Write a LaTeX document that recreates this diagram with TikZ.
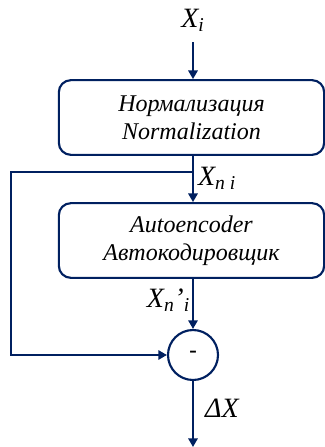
\documentclass[tikz,border=0pt]{standalone}
\usepackage{fontspec}
\setmainfont{Liberation Serif}[ItalicFont={Liberation Serif Italic}]
\newfontfamily\signfont{Liberation Sans}
\usetikzlibrary{arrows.meta,positioning,calc}
\definecolor{navy}{RGB}{0,32,96}

\begin{document}
\begin{tikzpicture}[x=0.75pt,y=0.75pt,
    line width=1.6pt,
    blk/.style={draw=navy,line width=1.6pt,rounded corners=9pt,align=center,
      minimum width=199pt,minimum height=56pt,font=\fontsize{18}{21}\selectfont\itshape},
    lbl/.style={font=\fontsize{21}{24}\selectfont\itshape,inner sep=0pt},
    sumnode/.style={draw=navy,line width=1.6pt,circle,minimum size=37.5pt,inner sep=0pt,
      font=\fontsize{18}{20}\selectfont\signfont},
    arr/.style={draw=navy,-{Triangle[length=6.5pt,width=7pt]}},
    wire/.style={draw=navy}]
    \useasboundingbox (0,0) rectangle (325,-447);
    % input label and the two blocks
    \node[lbl] (xi) at (193,-20) {X\textsubscript{i}};
    \node[blk] (norm) at (191.5,-117.5) {Нормализация\\Normalization};
    \node[blk] (ae) at (191.5,-240.5) {Autoencoder\\Автокодировщик};
    \node[sumnode] (minus) at (193,-355) {-};
    % free ends of the wires
    \coordinate (in) at (193,-42);
    \coordinate (split) at (193,-172);
    \coordinate (fbk) at (11,-172);
    \coordinate (out) at (193,-447);
    % main path
    \draw[arr] (in) -- (in |- norm.north);
    \draw[wire] (split |- norm.south) -- (split);
    \draw[arr] (split) -- (split |- ae.north);
    \draw[arr] (split |- ae.south) -- (minus.north);
    \draw[arr] (minus.south) -- (out);
    % feedback round the autoencoder
    \draw[arr] (split) -- (fbk) |- (minus.west);
    % signal labels
    \node[lbl,anchor=west] (xn) at (197,-178) {X\textsubscript{n i}};
    \node[lbl,anchor=east] (xnp) at (191,-300) {X\textsubscript{n}’\textsubscript{i}};
    \node[lbl,anchor=west] (dx) at (204,-408) {ΔX};
\end{tikzpicture}
\end{document}
